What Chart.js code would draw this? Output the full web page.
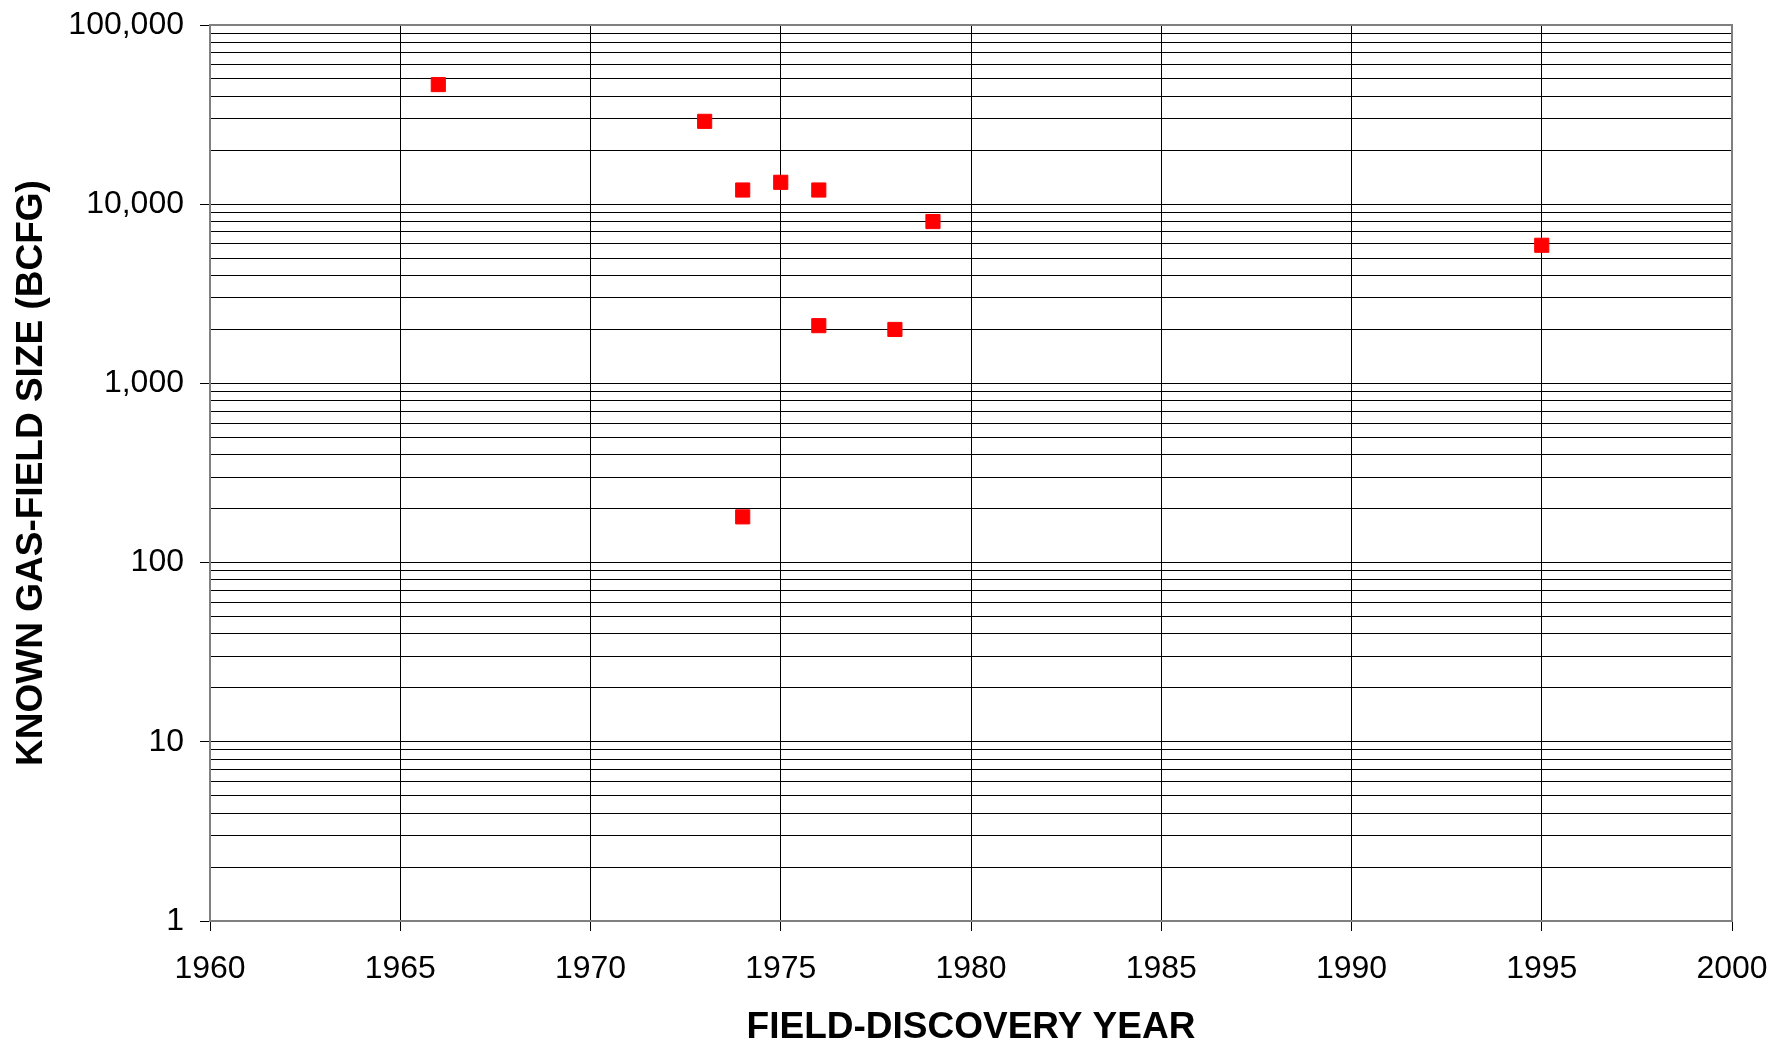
<!DOCTYPE html>
<html>
<head>
<meta charset="utf-8">
<script src="https://cdn.jsdelivr.net/npm/chart.js@4/dist/chart.umd.min.js"></script>
<style>
  html, body { margin: 0; padding: 0; background: #fff; }
  #wrap { width: 1773px; height: 1044px; }
</style>
</head>
<body>
<div id="wrap"><canvas id="c" width="1773" height="1044"></canvas></div>
<script>
// Data
const discoveryYears = [1966, 1973, 1974, 1975, 1976, 1979, 1976, 1978, 1974, 1995];
const fieldSizes = [46500, 29000, 12000, 13250, 12000, 8000, 2100, 2000, 180, 5900];
const xTickYears = [1960, 1965, 1970, 1975, 1980, 1985, 1990, 1995, 2000];
const yDecadeTicks = [1, 10, 100, 1000, 10000, 100000];
const xTitle = 'FIELD-DISCOVERY YEAR';
const yTitle = 'KNOWN GAS-FIELD SIZE (BCFG)';

const FONT = '"Liberation Sans", Arial, Helvetica, sans-serif';
const isDecade = v => yDecadeTicks.includes(v);

const points = discoveryYears.map((yr, i) => ({ x: yr, y: fieldSizes[i] }));

const zeroPad = s => { s.paddingTop = 0; s.paddingBottom = 0; s.paddingLeft = 0; s.paddingRight = 0; };

const framePlugin = {
  id: 'frame',
  afterDraw(chart) {
    const { ctx, chartArea: a } = chart;
    ctx.save();
    ctx.strokeStyle = '#808080';
    ctx.lineWidth = 2;
    ctx.strokeRect(a.left, a.top, a.right - a.left, a.bottom - a.top);
    ctx.restore();
  }
};

new Chart(document.getElementById('c'), {
  type: 'scatter',
  data: {
    datasets: [{
      data: points,
      pointStyle: 'rect',
      pointRadius: 10,
      pointHoverRadius: 10,
      backgroundColor: '#ff0000',
      borderColor: '#ff0000',
      borderWidth: 1
    }]
  },
  options: {
    responsive: false,
    animation: false,
    events: [],
    layout: { padding: { top: 25, right: 41, left: 0, bottom: 0 } },
    plugins: { legend: { display: false }, tooltip: { enabled: false } },
    scales: {
      x: {
        type: 'linear',
        min: xTickYears[0],
        max: xTickYears[xTickYears.length - 1],
        afterBuildTicks: s => { s.ticks = xTickYears.map(v => ({ value: v })); },
        afterFit: s => { s.height = 123; zeroPad(s); },
        border: { display: false },
        grid: { color: '#000', lineWidth: 1, tickLength: 10, tickColor: '#000', drawTicks: true },
        ticks: {
          color: '#000',
          font: { family: FONT, size: 32 },
          padding: 19,
          maxRotation: 0,
          autoSkip: false,
          callback: v => String(v)
        },
        title: {
          display: true,
          text: xTitle,
          color: '#000',
          font: { family: FONT, size: 37, weight: 'bold', lineHeight: 1 },
          padding: { top: 0, bottom: -2 }
        }
      },
      y: {
        type: 'logarithmic',
        min: 1,
        max: 100000,
        afterBuildTicks: s => {
          const t = [];
          for (let k = 0; k < 5; k++) {
            for (let m = 1; m <= 9; m++) t.push({ value: m * Math.pow(10, k) });
          }
          t.push({ value: 100000 });
          s.ticks = t;
        },
        afterFit: s => { s.width = 210; zeroPad(s); },
        border: { display: false },
        grid: {
          color: '#000',
          lineWidth: 1,
          tickLength: 10,
          tickColor: c => (c.tick && isDecade(c.tick.value)) ? '#000' : 'rgba(0,0,0,0)'
        },
        ticks: {
          color: '#000',
          font: { family: FONT, size: 32 },
          padding: 16,
          autoSkip: false,
          callback: v => isDecade(v) ? v.toLocaleString('en-US') : ''
        },
        title: {
          display: true,
          text: yTitle,
          color: '#000',
          font: { family: FONT, size: 37, weight: 'bold', lineHeight: 1 },
          padding: { top: 13, bottom: 0 }
        }
      }
    }
  },
  plugins: [framePlugin]
});
</script>
</body>
</html>
